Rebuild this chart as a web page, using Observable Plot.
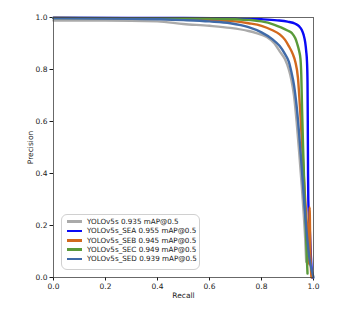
<!DOCTYPE html>
<html>
<head>
<meta charset="utf-8">
<script src="https://cdn.jsdelivr.net/npm/d3@7"></script>
<script src="https://cdn.jsdelivr.net/npm/@observablehq/plot@0.6"></script>
<style>
  body { margin: 0; background: #fff; font-family: "DejaVu Sans", sans-serif; }
  #wrap { position: relative; width: 344px; height: 310px; }
  #legend {
    position: absolute; left: 61px; top: 214px; width: 137px; height: 52px;
    border: 1px solid #d0d0d0; border-radius: 6px; background: rgba(255,255,255,0.85);
    box-sizing: content-box; padding-top: 2px;
  }
  .row { display: flex; align-items: center; height: 9.3px; font-size: 7.2px; color: #1a1a1a; white-space: nowrap; }
  .sw { width: 15px; height: 2.6px; margin-left: 5px; margin-right: 5px; }
</style>
</head>
<body>
<div id="wrap"></div>
<script>
const seriesNames = ["YOLOv5s", "YOLOv5s_SEA", "YOLOv5s_SEB", "YOLOv5s_SEC", "YOLOv5s_SED"];
const mapValues = [0.935, 0.955, 0.945, 0.949, 0.939];
const colors = ["#aaaaaa", "#0a0af5", "#d2691e", "#5a9a3a", "#3f6aa8"];

const recallBase = [0, 0.2, 0.4, 0.5, 0.6, 0.68, 0.75, 0.78, 0.82, 0.85, 0.87, 0.89, 0.905, 0.915, 0.925, 0.935, 0.945, 0.955, 0.962, 0.968, 0.972];
const precisionBase = [0.988, 0.988, 0.985, 0.975, 0.968, 0.96, 0.948, 0.94, 0.925, 0.9, 0.87, 0.84, 0.8, 0.76, 0.7, 0.6, 0.48, 0.35, 0.25, 0.15, 0.06];

const recallSEA = [0, 0.5, 0.7, 0.8, 0.86, 0.9, 0.93, 0.945, 0.955, 0.962, 0.968, 0.972, 0.975, 0.977, 0.978, 0.979, 0.98, 0.985, 0.99, 0.995];
const precisionSEA = [0.999, 0.998, 0.996, 0.993, 0.989, 0.984, 0.976, 0.966, 0.952, 0.933, 0.905, 0.87, 0.83, 0.75, 0.6, 0.4, 0.3, 0.2, 0.08, 0.0];

const recallSEB = [0, 0.4, 0.6, 0.7, 0.75, 0.8, 0.84, 0.87, 0.89, 0.905, 0.92, 0.93, 0.94, 0.95, 0.96, 0.968, 0.975, 0.98, 0.983, 0.985, 0.988, 0.992];
const precisionSEB = [0.998, 0.995, 0.99, 0.985, 0.978, 0.968, 0.952, 0.935, 0.915, 0.89, 0.86, 0.83, 0.77, 0.62, 0.44, 0.3, 0.2, 0.1, 0.05, 0.27, 0.1, 0.0];

const recallSEC = [0, 0.5, 0.7, 0.8, 0.85, 0.875, 0.9, 0.917, 0.93, 0.937, 0.945, 0.95, 0.953, 0.956, 0.96, 0.964, 0.97, 0.975, 0.977];
const precisionSEC = [0.998, 0.997, 0.993, 0.985, 0.972, 0.962, 0.95, 0.94, 0.92, 0.9, 0.87, 0.84, 0.78, 0.65, 0.5, 0.37, 0.2, 0.06, 0.015];

const recallSED = [0, 0.3, 0.5, 0.6, 0.68, 0.75, 0.8, 0.84, 0.87, 0.89, 0.905, 0.915, 0.925, 0.935, 0.945, 0.955, 0.965, 0.975, 0.985, 0.995, 1.0];
const precisionSED = [0.997, 0.995, 0.99, 0.985, 0.978, 0.963, 0.943, 0.918, 0.89, 0.86, 0.83, 0.79, 0.74, 0.66, 0.55, 0.42, 0.28, 0.16, 0.07, 0.02, 0.0];

const xTicks = [0, 0.2, 0.4, 0.6, 0.8, 1.0];
const yTicks = [0, 0.2, 0.4, 0.6, 0.8, 1.0];

const recalls = [recallBase, recallSEA, recallSEB, recallSEC, recallSED];
const precisions = [precisionBase, precisionSEA, precisionSEB, precisionSEC, precisionSED];

const rows = [];
seriesNames.forEach((name, i) => {
  recalls[i].forEach((r, j) => rows.push({series: name, recall: r, precision: precisions[i][j]}));
});

const chart = Plot.plot({
  width: 344,
  height: 310,
  marginLeft: 53,
  marginRight: 31,
  marginTop: 17,
  marginBottom: 33,
  style: {fontFamily: "DejaVu Sans, sans-serif", fontSize: "7.5px", color: "#1a1a1a", background: "#fff"},
  x: {domain: [0, 1]},
  y: {domain: [0, 1]},
  color: {domain: seriesNames, range: colors},
  marks: [
    Plot.axisX({ticks: xTicks, tickFormat: d3.format(".1f"), tickSize: 3.5, tickPadding: 2.5, label: "Recall", labelAnchor: "center", labelArrow: "none", labelOffset: 20}),
    Plot.axisY({ticks: yTicks, tickFormat: d3.format(".1f"), tickSize: 3.5, tickPadding: 2.5, label: "Precision", labelAnchor: "center", labelArrow: "none", labelOffset: 26}),
    Plot.line(rows, {x: "recall", y: "precision", z: "series", stroke: "series", strokeWidth: 2.4, curve: "monotone-x"}),
    Plot.frame({stroke: "#444", strokeWidth: 0.8})
  ]
});

const wrap = document.getElementById("wrap");
wrap.appendChild(chart);

const legend = document.createElement("div");
legend.id = "legend";
seriesNames.forEach((name, i) => {
  const row = document.createElement("div");
  row.className = "row";
  const sw = document.createElement("div");
  sw.className = "sw";
  sw.style.background = colors[i];
  const t = document.createElement("span");
  t.textContent = `${name} ${mapValues[i].toFixed(3)} mAP@0.5`;
  row.appendChild(sw);
  row.appendChild(t);
  legend.appendChild(row);
});
wrap.appendChild(legend);
</script>
</body>
</html>
